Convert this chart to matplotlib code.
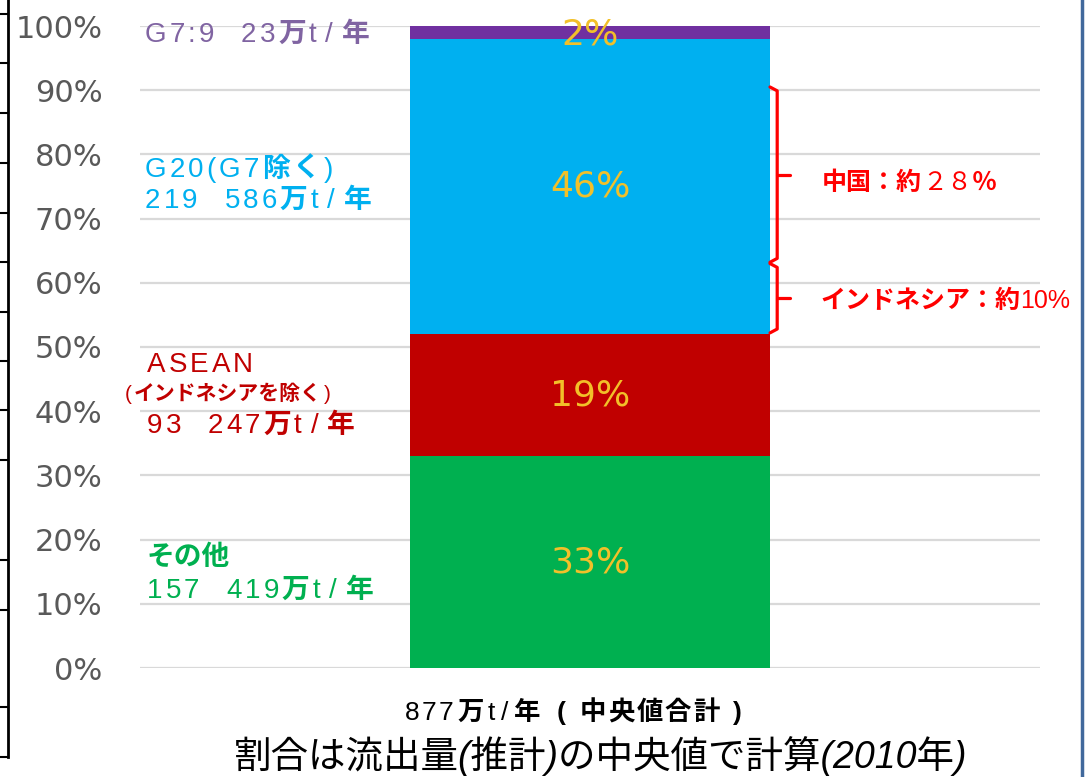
import matplotlib
matplotlib.use("Agg")
import matplotlib.pyplot as plt

W, H = 1090, 777
plt.rcParams['font.family'] = ['DejaVu Sans', 'Noto Sans CJK JP']

# data
groups = ['その他', 'ASEAN', 'G20(G7除く)', 'G7']
shares = [33, 19, 46, 2]
bar_colors = ['#00B050', '#C00000', '#00B0F0', '#7030A0']
yticks = list(range(0, 101, 10))
china_range = [63.2, 90.5]
indonesia_range = [52.2, 63.0]

JP = ['Liberation Sans', 'Noto Sans CJK JP']

fig = plt.figure(figsize=(W / 100, H / 100), dpi=100)
ax = fig.add_axes([140 / W, 1 - 668 / H, 900 / W, 642 / H])

bottom = 0
for v, c in zip(shares, bar_colors):
    ax.bar(0.5, v, bottom=bottom, width=0.4, color=c, zorder=2)
    ax.text(0.5, bottom + v / 2 if v > 5 else 98.6, f'{v}%', ha='center', va='center',
            fontsize=26, color='#F2C029', zorder=3)
    bottom += v

ax.set_xlim(0, 1)
ax.set_ylim(0, 100)
ax.set_yticks(yticks)
ax.set_yticklabels([f'{t}%' for t in yticks])
ax.set_xticks([])
ax.tick_params(axis='y', length=0, pad=27, labelsize=22, labelcolor='#595959')
ax.yaxis.grid(True, color='#D9D9D9', lw=1.6, zorder=0)
ax.set_axisbelow(True)
for s in ax.spines.values():
    s.set_visible(False)


# curly brackets on the right of the bar
def bracket(lo, hi):
    mid = (lo + hi) / 2
    kw = dict(color='#FF0000', lw=2.3, clip_on=False, solid_capstyle='round')
    ax.plot([0.700, 0.708, 0.708, 0.700], [hi, hi - 0.6, lo + 0.6, lo], **kw)
    ax.plot([0.708, 0.722], [mid, mid], **kw)


bracket(*china_range)
bracket(*indonesia_range)

renderer = fig.canvas.get_renderer()


def rich(x, y, parts, size, color, track=0):
    # draw text pieces one after another, with some letter spacing
    for s, kw, gap in parts:
        chunks = list(s) if track else [s]
        for ch in chunks:
            t = fig.text(x / W, 1 - y / H, ch, fontsize=size, color=color,
                         va='baseline', family=JP, **kw)
            if ch == ' ':
                x += size * 0.35
            else:
                x += t.get_window_extent(renderer).width + track
        x += gap


B = dict(weight='bold')
BI = dict(weight='bold', style='italic')

rich(145, 42, [('G7:9', {}, 24), ('23', {}, 0), ('万', BI, 0),
               ('t', {}, 6), ('/', {}, 6), ('年', BI, 0)], 20, '#8064A2', 3)
rich(145, 177, [('G20(G7', {}, 0), ('除く', BI, 0), (')', {}, 0)], 20, '#00B0F0', 3)
rich(145, 208, [('219', {}, 24), ('586', {}, 0), ('万', BI, 0),
                ('t', {}, 6), ('/', {}, 6), ('年', BI, 0)], 20, '#00B0F0', 3)
rich(147, 372, [('ASEAN', {}, 0)], 20, '#C00000', 3)
rich(125, 400, [('(', {}, 2), ('インドネシアを除く', BI, 2), (')', {}, 0)], 15, '#C00000')
rich(147, 433, [('93', {}, 24), ('247', {}, 0), ('万', BI, 0),
                ('t', {}, 6), ('/', {}, 6), ('年', BI, 0)], 20, '#C00000', 3)
rich(147, 565, [('その他', BI, 0)], 20, '#00B050')
rich(147, 598, [('157', {}, 24), ('419', {}, 0), ('万', BI, 0),
                ('t', {}, 6), ('/', {}, 6), ('年', BI, 0)], 20, '#00B050', 3)

rich(822, 190, [('中国：約', B, 0), ('２８', {}, 0), ('％', B, 0)], 18, '#FF0000')
rich(820, 308, [('インドネシア：約', B, 0), ('10%', {}, 0)], 18, '#FF0000')

rich(405, 720, [('877', {}, 2), ('万', B, 2), ('t', {}, 4), ('/', {}, 4),
                ('年', B, 14), ('(', B, 12), ('中央値合計', B, 12), (')', B, 0)],
     19, 'black', 2)

fig.text(601 / W, 1 - 768 / H, '割合は流出量(推計)の中央値で計算(2010年)',
         ha='center', va='baseline', fontsize=27, style='italic',
         family=JP, color='black')

# frame edges cropped from the slide
fig.add_artist(plt.Line2D([8 / W, 8 / W], [1, 1 - 757 / H], color='black', lw=2))
for yy in [14, 63, 113, 163, 213, 262, 312, 361, 410, 460, 560, 610, 707, 757]:
    fig.add_artist(plt.Line2D([0, 8 / W], [1 - yy / H, 1 - yy / H], color='black', lw=1.5))
fig.add_artist(plt.Line2D([1082 / W, 1082 / W], [0, 1], color='#41699C', lw=2.5))

fig.savefig('out.png', dpi=100)
